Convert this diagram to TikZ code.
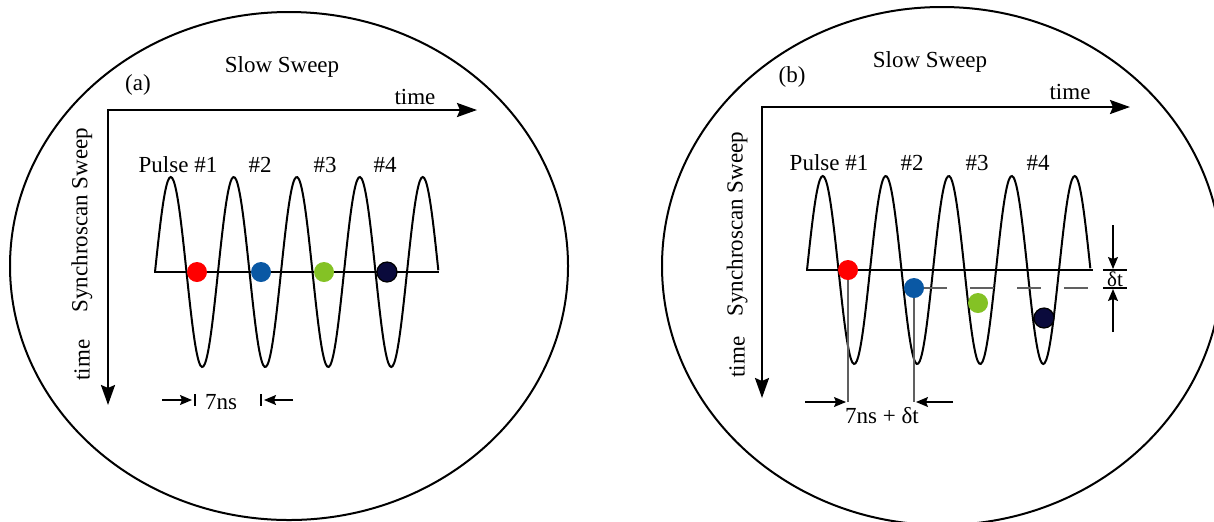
\documentclass[tikz,border=0pt]{standalone}
\usepackage{fontspec}
\setmainfont{Liberation Serif}
\usetikzlibrary{arrows.meta}
\definecolor{dotblue}{HTML}{0A58A4}
\definecolor{dotgreen}{HTML}{84C225}
\definecolor{dotnavy}{HTML}{0A0A3C}
\begin{document}
\begin{tikzpicture}[x=0.5pt,y=-0.5pt,
  lbl/.style={font=\fontsize{11.5pt}{13pt}\selectfont, inner sep=0pt},
  axis/.style={line width=1.2pt, {Stealth[length=10pt,width=7pt,inset=1.5pt]}-{Stealth[length=10pt,width=7pt,inset=1.5pt]}},
  wave/.style={line width=1pt},
  guide/.style={gray!75!black, line width=0.6pt},
  smallarrow/.style={line width=0.6pt, -{Stealth[length=6pt,width=5pt,inset=1pt]}},
  dot/.style={circle, inner sep=0pt, minimum size=10pt}]
\useasboundingbox (0,0) rectangle (1214,521);
\clip (0,0) rectangle (1214,521);

% ---------------- panel (a) ----------------
\draw[line width=1pt] (289,266) ellipse [x radius=139.5pt, y radius=127pt];
\coordinate (aO) at (108,110);
\coordinate (aX) at (477,110);
\coordinate (aY) at (108,405);
\draw[axis] (aY) -- (aO) -- (aX);
\node[lbl] (aslow) at (282,67) {Slow Sweep};
\node[lbl] (alab) at (138,85) {(a)};
\node[lbl] (atime) at (415,97) {time};
\node[lbl, rotate=90] (async) at (82,220) {Synchroscan Sweep};
\node[lbl, rotate=90] (atimev) at (82,360) {time};
\node[lbl] (ap1) at (178,165) {Pulse \#1};
\node[lbl] (ap2) at (260,165) {\#2};
\node[lbl] (ap3) at (325,165) {\#3};
\node[lbl] (ap4) at (385,165) {\#4};
\draw[wave] plot[domain=0:4.5, samples=200, smooth] ({155+63*\x},{272-95*sin(360*\x)});
\coordinate (aL) at (154,272);
\coordinate (aR) at (439,272);
\draw[line width=1pt] (aL) -- (aR);
\node[dot, fill=red] (ad1) at (197,272) {};
\node[dot, fill=dotblue] (ad2) at (261,272) {};
\node[dot, fill=dotgreen] (ad3) at (324,272) {};
\node[dot, fill=dotnavy, draw=black, line width=0.6pt] (ad4) at (387,272) {};
\coordinate (aA1s) at (162,400);
\coordinate (aA1e) at (192,400);
\coordinate (aA2s) at (293,400);
\coordinate (aA2e) at (264,400);
\draw[smallarrow] (aA1s) -- (aA1e);
\draw[smallarrow] (aA2s) -- (aA2e);
\draw[line width=0.6pt] (195,394) -- (195,406);
\draw[line width=0.6pt] (261,394) -- (261,406);
\node[lbl] (a7ns) at (221,402) {7ns};

% ---------------- panel (b) ----------------
\draw[line width=1pt] (942,266) ellipse [x radius=140pt, y radius=129.5pt];
\coordinate (bO) at (762,107);
\coordinate (bX) at (1130,107);
\coordinate (bY) at (762,398);
\draw[axis] (bY) -- (bO) -- (bX);
\node[lbl] (bslow) at (930,62) {Slow Sweep};
\node[lbl] (blab) at (792,77) {(b)};
\node[lbl] (btime) at (1070,92) {time};
\node[lbl, rotate=90] (bsync) at (737,224) {Synchroscan Sweep};
\node[lbl, rotate=90] (btimev) at (737,357) {time};
\node[lbl] (bp1) at (829,163) {Pulse \#1};
\node[lbl] (bp2) at (912,163) {\#2};
\node[lbl] (bp3) at (977,163) {\#3};
\node[lbl] (bp4) at (1038,163) {\#4};
\draw[wave] plot[domain=0:4.5, samples=200, smooth] ({807+63*\x},{270-94*sin(360*\x)});
\coordinate (bL) at (806,270);
\coordinate (bR) at (1093,270);
\draw[line width=1pt] (bL) -- (bR);
\coordinate (bDs) at (923,288);
\coordinate (bDe) at (1093,288);
\draw[guide, dash pattern=on 12pt off 11.5pt] (bDs) -- (bDe);
\coordinate (bG1) at (848,402);
\coordinate (bG2) at (914,402);
\draw[guide] (848,270) -- (bG1);
\draw[guide] (914,288) -- (bG2);
\node[dot, fill=red] (bd1) at (848,270) {};
\node[dot, fill=dotblue] (bd2) at (914,288) {};
\node[dot, fill=dotgreen] (bd3) at (978,303) {};
\node[dot, fill=dotnavy, draw=black, line width=0.6pt] (bd4) at (1044,318) {};
\coordinate (bA1s) at (805,402);
\coordinate (bA1e) at (846,402);
\coordinate (bA2s) at (953,402);
\coordinate (bA2e) at (916,402);
\draw[smallarrow] (bA1s) -- (bA1e);
\draw[smallarrow] (bA2s) -- (bA2e);
\node[lbl] (b7ns) at (882,416) {7ns + δt};
% delta t marker
\draw[line width=0.6pt] (1103,270) -- (1127,270);
\draw[line width=0.6pt] (1103,288) -- (1127,288);
\coordinate (bT1s) at (1113,225);
\coordinate (bT1e) at (1113,269);
\coordinate (bT2s) at (1113,332);
\coordinate (bT2e) at (1113,289);
\draw[smallarrow] (bT1s) -- (bT1e);
\draw[smallarrow] (bT2s) -- (bT2e);
\node[lbl, font=\fontsize{10.5pt}{12pt}\selectfont] (bdt) at (1115,279) {δt};
\end{tikzpicture}
\end{document}
